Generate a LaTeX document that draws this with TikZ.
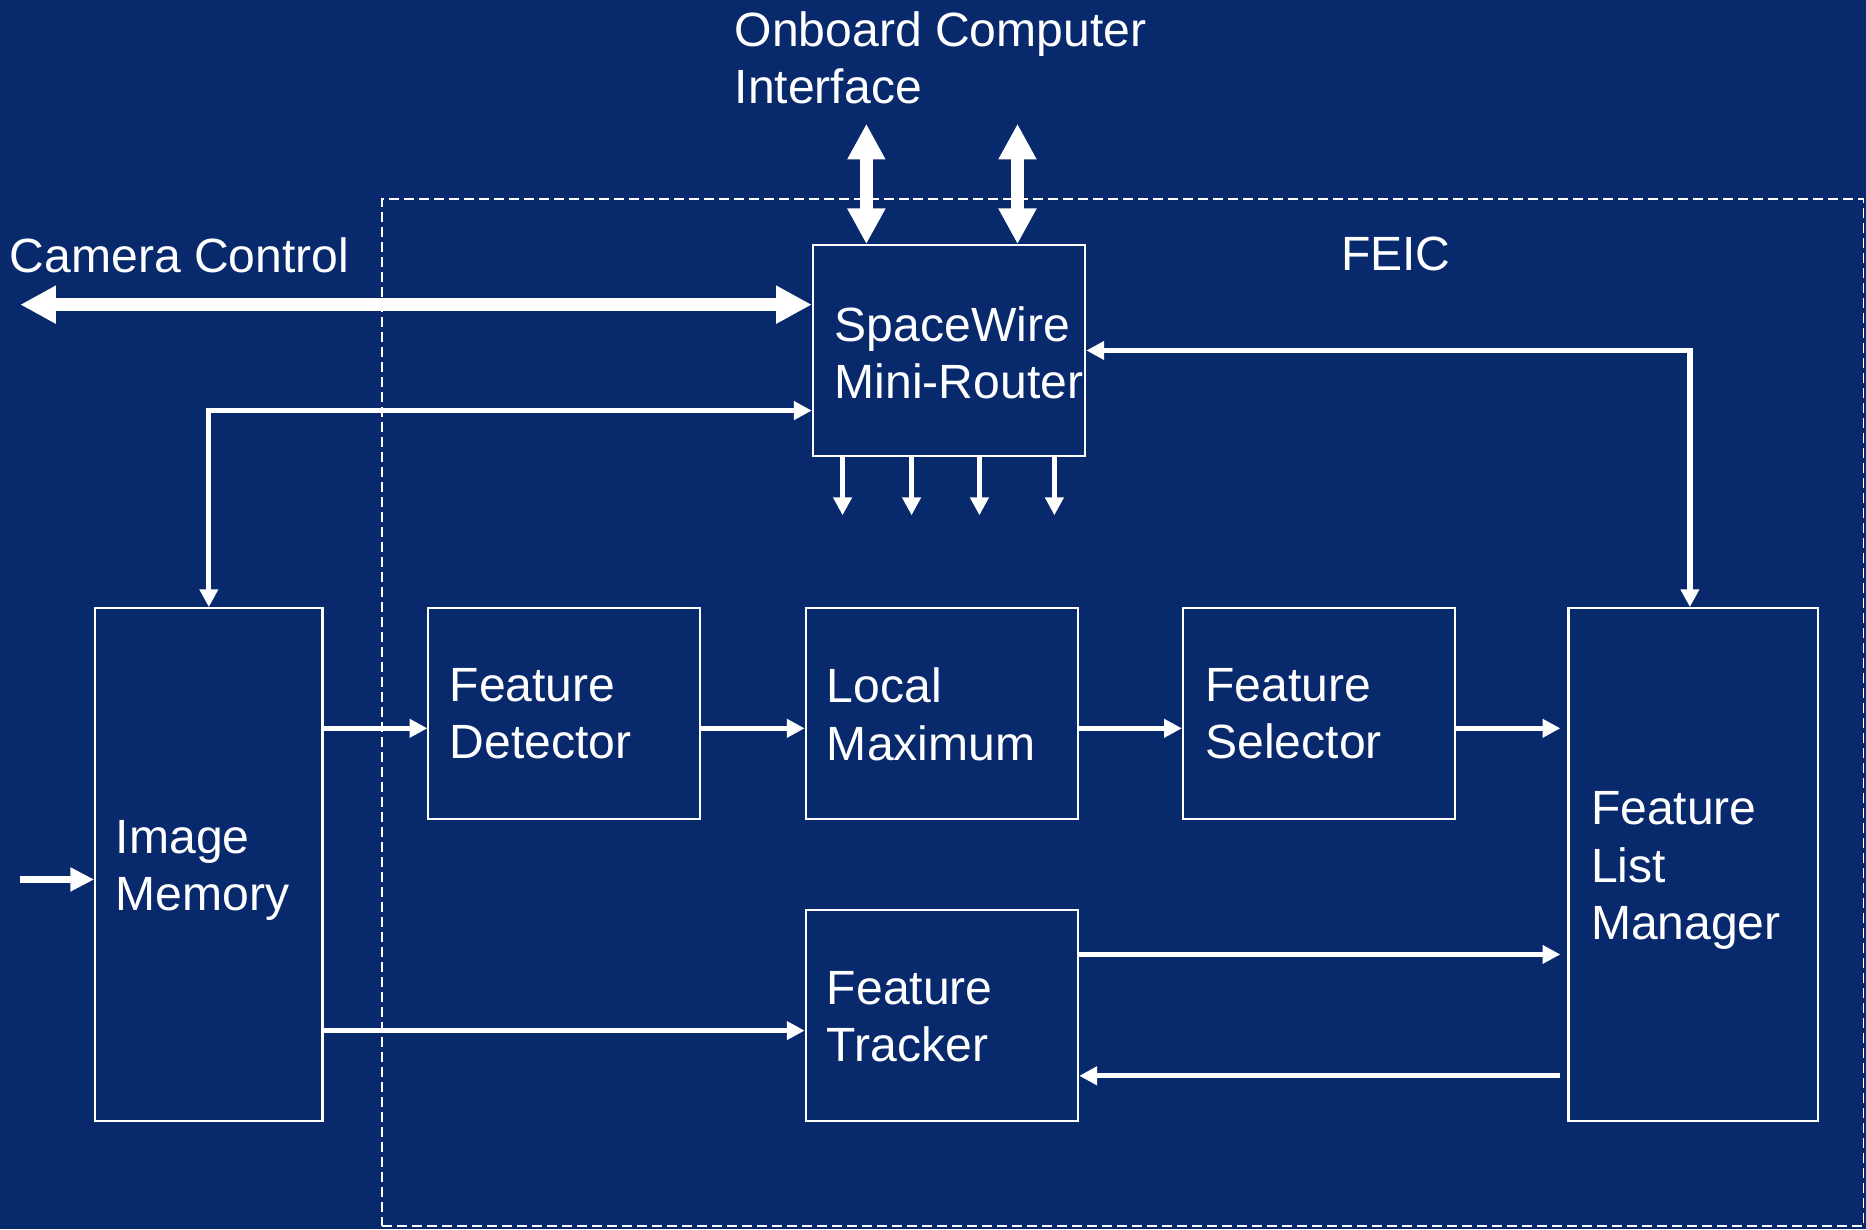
\documentclass[tikz,border=0pt]{standalone}
\usepackage{fontspec}
\setmainfont{Liberation Sans}
\usetikzlibrary{arrows.meta,calc}
\definecolor{bgblue}{RGB}{8,42,108}
\begin{document}
\begin{tikzpicture}[x=0.5pt,y=-0.5pt,
  box/.style={draw=white,line width=0.85pt,inner sep=0pt,rectangle},
  lbl/.style={text=white,font=\fontsize{20.2}{24}\selectfont,align=left,anchor=north west,inner sep=0pt},
  thinarrow/.style={draw=white,line width=2.2pt,-{Triangle[length=7.5pt,width=7.5pt]}},
  thinboth/.style={draw=white,line width=2.2pt,{Triangle[length=7.5pt,width=7.5pt]}-{Triangle[length=7.5pt,width=7.5pt]}},
  midarrow/.style={draw=white,line width=3.3pt,-{Triangle[length=10pt,width=9.5pt]}},
  thickboth/.style={draw=white,line width=5.3pt,{Triangle[length=15pt,width=15pt]}-{Triangle[length=15pt,width=15pt]}},
  feicbox/.style={draw=white,line width=0.65pt,dash pattern=on 4.2pt off 2.1pt,inner sep=0pt,rectangle}
]
\useasboundingbox (0,0) rectangle (1568,1033);
\fill[bgblue] (0,0) rectangle (1568,1033);

% FEIC region
\node[feicbox,minimum width=622.5pt,minimum height=431.5pt] (feic) at (943.5,598.5) {};

% Boxes
\node[box,minimum width=114.5pt,minimum height=88.5pt] (router) at (797.5,294.5) {};
\node[box,minimum width=95.5pt,minimum height=215.5pt] (im) at (175.5,726.5) {};
\node[box,minimum width=114pt,minimum height=88.5pt] (fd) at (474,599.5) {};
\node[box,minimum width=114.5pt,minimum height=88.5pt] (lm) at (791.5,599.5) {};
\node[box,minimum width=114.5pt,minimum height=88.5pt] (fs) at (1108.5,599.5) {};
\node[box,minimum width=105pt,minimum height=215.5pt] (flm) at (1423,726.5) {};
\node[box,minimum width=114.5pt,minimum height=88.5pt] (ft) at (791.5,853.5) {};

% Labels
\node[lbl] (tob) at (617,9) {Onboard Computer\\Interface};
\node[lbl] (tcam) at (8,199) {Camera Control};
\node[lbl] (tfeic) at (1126.5,199) {FEIC};
\node[lbl] (trouter) at (701,257) {SpaceWire\\Mini-Router};
\node[lbl] (tfd) at (377.5,561) {Feature\\Detector};
\node[lbl] (tlm) at (694.5,561) {Local\\Maximum};
\node[lbl] (tfs) at (1012.5,561) {Feature\\Selector};
\node[lbl] (tflm) at (1336.5,665) {Feature\\List\\Manager};
\node[lbl] (tim) at (97,689) {Image\\Memory};
\node[lbl] (tft) at (694.5,816) {Feature\\Tracker};

% Free ends
\coordinate (cam) at (17,256);
\coordinate (ob1) at (728,104);
\coordinate (ob2) at (855,104);
\coordinate (d1) at (708,433);
\coordinate (d2) at (766,433);
\coordinate (d3) at (823,433);
\coordinate (d4) at (886,433);
\coordinate (inp) at (17,739);
\coordinate (a1) at ([yshift=-6.25pt]fd.west);
\coordinate (a2) at ([yshift=-6.25pt]ft.west);
\coordinate (a3) at ([yshift=25.75pt]ft.east);
\coordinate (a4) at ([yshift=-25.25pt]ft.east);
\coordinate (r1) at ([yshift=-25.25pt]router.west);
\coordinate (flmin) at ([xshift=-3pt]flm.west);

% Connectors
\draw[thickboth] (cam) -- (cam -| router.west);
\draw[thickboth] (ob1) -- (ob1 |- router.north);
\draw[thickboth] (ob2) -- (ob2 |- router.north);
\foreach \d in {d1,d2,d3,d4} \draw[thinarrow] (\d |- router.south) -- (\d);
\draw[thinboth] (im.north) |- (r1);
\draw[thinboth] (router.east) -| ([xshift=-1.5pt]flm.north);
\draw[thinarrow] (im.east |- a1) -- (a1);
\draw[thinarrow] (fd.east |- a1) -- (lm.west |- a1);
\draw[thinarrow] (lm.east |- a1) -- (fs.west |- a1);
\draw[thinarrow] (fs.east |- a1) -- (flmin |- a1);
\draw[thinarrow] (im.east |- a2) -- (a2);
\draw[thinarrow] (a3) -- (flmin |- a3);
\draw[thinarrow] (flmin |- a4) -- (a4);
\draw[midarrow] (inp) -- (inp -| im.west);
\end{tikzpicture}
\end{document}
